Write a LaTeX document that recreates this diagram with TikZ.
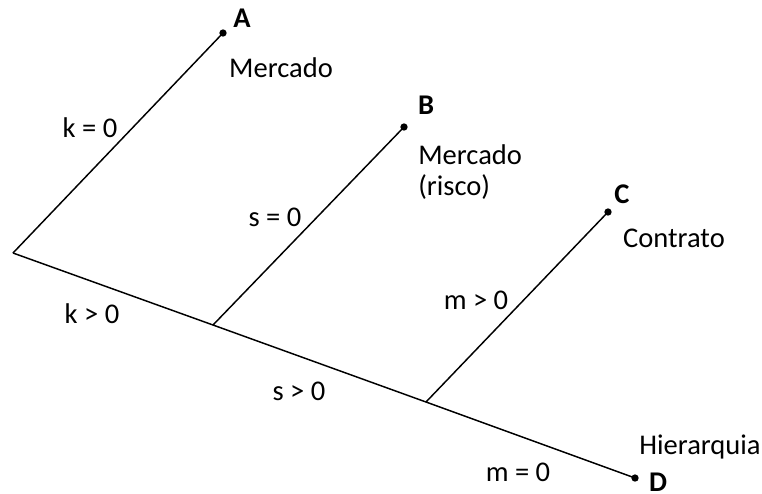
\documentclass[tikz,border=0pt]{standalone}
\usepackage{fontspec}
\setmainfont{Carlito}
\begin{document}
\begin{tikzpicture}[x=0.75pt,y=-0.75pt,
  lin/.style={line width=1.1pt},
  dot/.style={circle,fill=black,inner sep=0pt,minimum size=5.5pt},
  lbl/.style={font=\fontsize{21.4}{23}\selectfont,inner sep=0pt},
  bl/.style={font=\fontsize{21.4}{23}\selectfont\bfseries,inner sep=0pt}]
\useasboundingbox (0,0) rectangle (762,493);
\coordinate (O) at (13,253);
\coordinate (S1) at (213,325);
\coordinate (S2) at (426,402);
\node[dot] (A) at (223,33) {};
\node[dot] (B) at (404,127) {};
\node[dot] (C) at (608,212) {};
\node[dot] (D) at (635,478) {};
\draw[lin] (O) -- (A.center);
\draw[lin] (S1) -- (B.center);
\draw[lin] (S2) -- (C.center);
\draw[lin] (O) -- (S1) -- (S2) -- (D.center);
\node[bl] (tA) at (242,18) {A};
\node[bl] (tB) at (426,105) {B};
\node[bl] (tC) at (622,194) {C};
\node[bl] (tD) at (658,482) {D};
\node[lbl] (lA) at (281,68) {Mercado};
\node[lbl,align=left,anchor=west] (lB) at (418,172) {Mercado\\(risco)};
\node[lbl] (lC) at (674,238) {Contrato};
\node[lbl] (lD) at (700,447) {Hierarquia};
\node[lbl] (k0) at (90,128) {k = 0};
\node[lbl] (s0) at (275,217) {s = 0};
\node[lbl] (m1) at (476,300) {m > 0};
\node[lbl] (k1) at (92,314) {k > 0};
\node[lbl] (s1) at (299,391) {s > 0};
\node[lbl] (m0) at (518,472) {m = 0};
\end{tikzpicture}
\end{document}
